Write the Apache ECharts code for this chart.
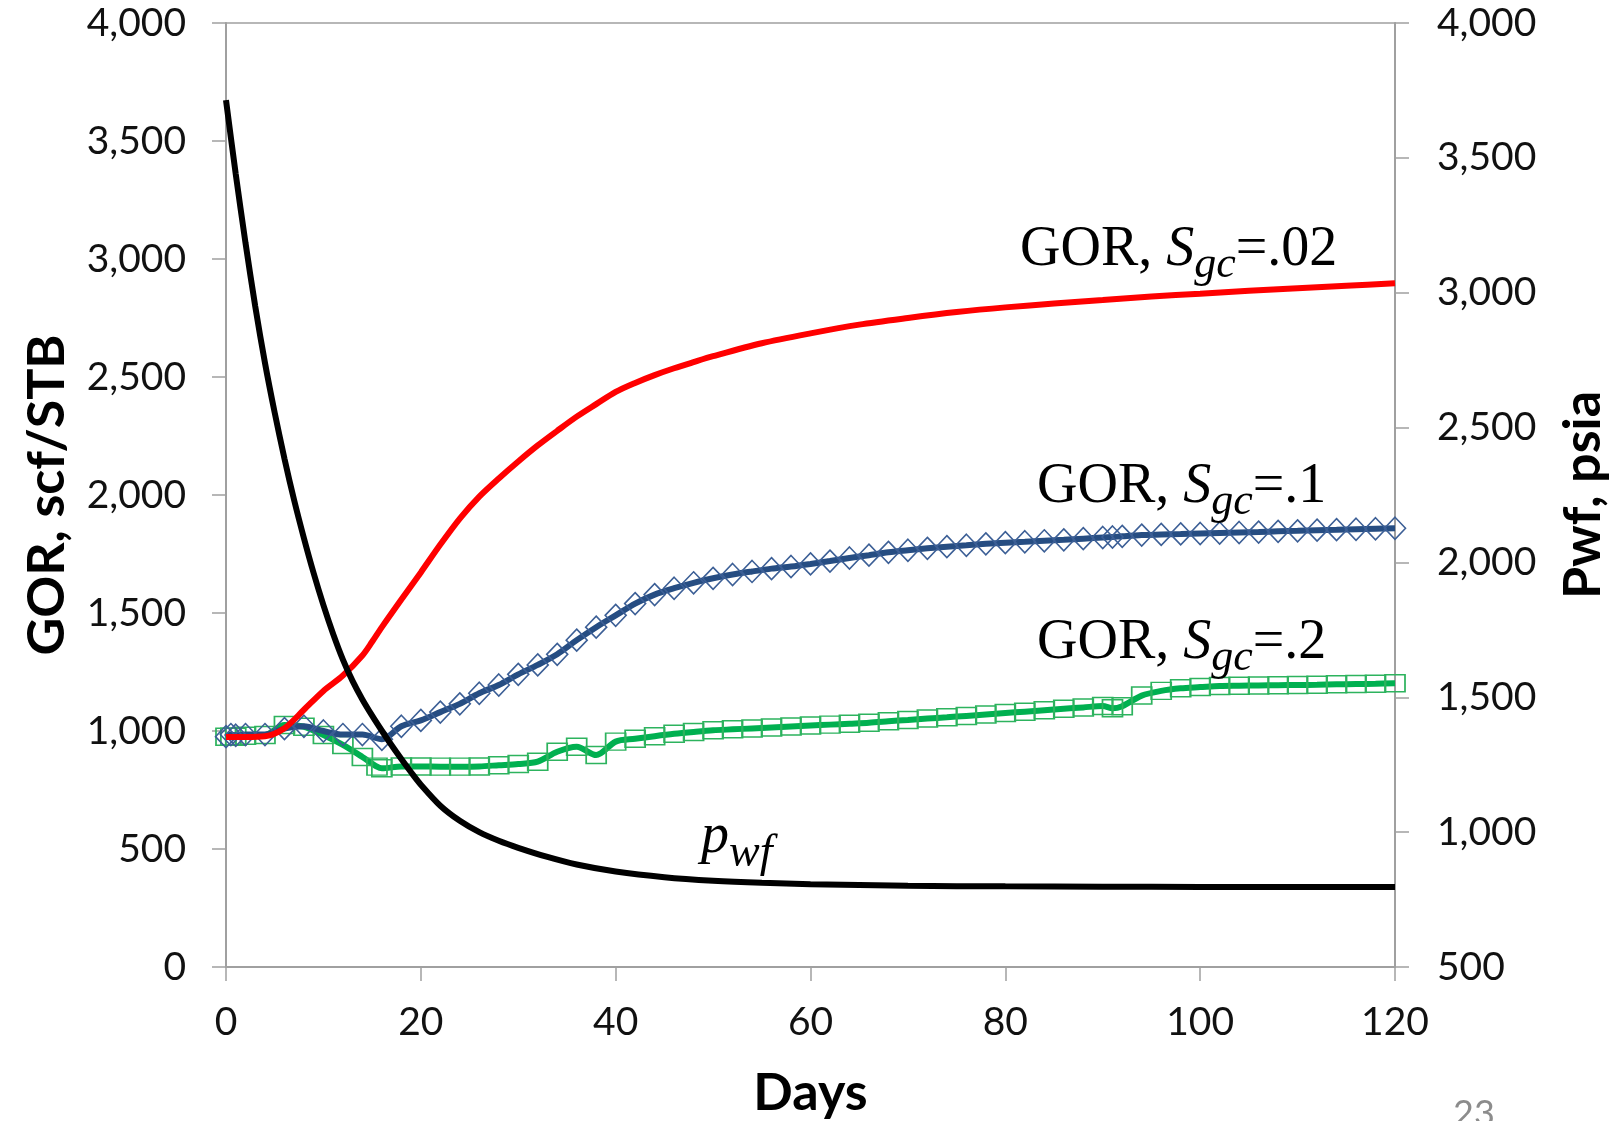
<!DOCTYPE html>
<html><head><meta charset="utf-8">
<script src="https://cdn.jsdelivr.net/npm/echarts@6/dist/echarts.min.js"></script>
<style>html,body{margin:0;padding:0;background:#fff}#c{width:1621px;height:1121px}</style>
</head><body><div id="c"></div>
<script>
// ---- data ----
const xTickValues = [0, 20, 40, 60, 80, 100, 120];
const leftTickValues = [0, 500, 1000, 1500, 2000, 2500, 3000, 3500, 4000];
const rightTickValues = [500, 1000, 1500, 2000, 2500, 3000, 3500, 4000];

// GOR, Sgc=.02 (red)
const redDays = [0, 2, 4, 6, 8, 10, 12, 14, 15, 16, 18, 20, 22, 24, 26, 28, 30, 32, 34, 36, 38, 40, 42, 44, 46, 48, 50, 55, 60, 65, 70, 75, 80, 85, 90, 95, 100, 105, 110, 115, 120];
const redGOR = [975, 975, 978, 1012, 1090, 1170, 1235, 1320, 1378, 1440, 1557, 1672, 1790, 1900, 1993, 2070, 2142, 2210, 2272, 2332, 2385, 2437, 2475, 2508, 2537, 2563, 2588, 2643, 2685, 2722, 2750, 2775, 2795, 2811, 2826, 2841, 2853, 2865, 2876, 2887, 2897];

// GOR, Sgc=.1 (blue diamonds)
const blueDays = [0, 0.5, 1, 2, 4, 6, 8, 10, 12, 14, 16, 18, 20, 22, 24, 26, 28, 30, 32, 34, 36, 38, 40, 42, 44, 46, 48, 50, 52, 54, 56, 58, 60, 62, 64, 66, 68, 70, 72, 74, 76, 78, 80, 82, 84, 86, 88, 90, 91, 92, 94, 96, 98, 100, 102, 104, 106, 108, 110, 112, 114, 116, 118, 120];
const blueGOR = [976, 985, 982, 985, 985, 1010, 1020, 1000, 985, 985, 965, 1020, 1045, 1080, 1115, 1160, 1195, 1240, 1280, 1325, 1385, 1440, 1490, 1540, 1578, 1605, 1628, 1647, 1663, 1676, 1688, 1697, 1708, 1720, 1733, 1745, 1757, 1766, 1774, 1781, 1787, 1793, 1798, 1802, 1806, 1810, 1815, 1820, 1822, 1825, 1830, 1833, 1835, 1837, 1839, 1841, 1843, 1846, 1848, 1851, 1853, 1855, 1857, 1859];

// GOR, Sgc=.2 (green squares)
const greenDays = [0, 0.5, 1, 2, 4, 6, 8, 10, 12, 14, 15.5, 16, 18, 20, 22, 24, 26, 28, 30, 32, 34, 36, 38, 40, 42, 44, 46, 48, 50, 52, 54, 56, 58, 60, 62, 64, 66, 68, 70, 72, 74, 76, 78, 80, 82, 84, 86, 88, 90, 91, 92, 94, 96, 98, 100, 102, 104, 106, 108, 110, 112, 114, 116, 118, 120];
const greenGOR = [976, 976, 976, 980, 983, 1025, 1018, 983, 941, 890, 849, 842, 850, 850, 849, 849, 850, 855, 860, 870, 912, 933, 898, 955, 967, 978, 988, 996, 1003, 1007, 1011, 1015, 1019, 1023, 1027, 1031, 1035, 1041, 1047, 1053, 1058, 1064, 1070, 1076, 1082, 1088, 1094, 1100, 1106, 1096, 1105, 1150, 1170, 1181, 1186, 1191, 1192, 1193, 1194, 1195, 1196, 1198, 1199, 1200, 1202];

// pwf (black, right axis, psia)
const pwfDays = [0, 1, 2, 3, 4, 5, 6, 7, 8, 9, 10, 11, 12, 13, 14, 15, 16, 17, 18, 19, 20, 22, 24, 26, 28, 30, 33, 36, 40, 45, 50, 55, 60, 70, 80, 90, 100, 110, 120];
const pwfPsia = [3714, 3440, 3185, 2950, 2740, 2555, 2385, 2230, 2090, 1960, 1842, 1735, 1640, 1560, 1492, 1432, 1376, 1322, 1271, 1222, 1176, 1098, 1042, 1000, 968, 942, 908, 880, 854, 833, 820, 812, 807, 801, 799, 798, 797, 797, 797];

const zip = (xs, ys) => xs.map((x, i) => [x, ys[i]]);
const fmt = v => v.toLocaleString('en-US');

const axisGray = '#a0a0a0';
const tickFont = { fontFamily: 'Lato', fontSize: 39, color: '#111' };
const nameFont = { fontFamily: 'Lato', fontWeight: 'bold', fontSize: 52, color: '#000' };

const serif = 'Liberation Serif';
const gorRich = {
  n: { fontFamily: serif, fontSize: 56, lineHeight: 74, verticalAlign: 'middle', fill: '#000' },
  i: { fontFamily: serif, fontStyle: 'italic', fontSize: 56, lineHeight: 74, verticalAlign: 'middle', fill: '#000' },
  s: { fontFamily: serif, fontStyle: 'italic', fontSize: 44, lineHeight: 44, verticalAlign: 'bottom', fill: '#000' }
};
const pRich = {
  i: { fontFamily: serif, fontStyle: 'italic', fontSize: 56, lineHeight: 80, verticalAlign: 'middle', fill: '#000' },
  s: { fontFamily: serif, fontStyle: 'italic', fontSize: 46, lineHeight: 46, verticalAlign: 'bottom', fill: '#000' }
};

const lw = 6;
const chart = echarts.init(document.getElementById('c'));
chart.setOption({
  animation: false,
  backgroundColor: '#fff',
  grid: { left: 226, right: 226, top: 23, bottom: 154, containLabel: false, outerBoundsMode: 'none', show: true, borderColor: axisGray, borderWidth: 1.5, backgroundColor: 'transparent' },
  xAxis: {
    type: 'value', min: xTickValues[0], max: xTickValues[xTickValues.length - 1], interval: xTickValues[1] - xTickValues[0],
    axisLine: { lineStyle: { color: axisGray, width: 2 } },
    axisTick: { length: 14, lineStyle: { color: axisGray, width: 1.5 } },
    axisLabel: Object.assign({ margin: 36 }, tickFont),
    splitLine: { show: false },
    name: 'Days', nameLocation: 'middle', nameGap: 100, nameTextStyle: nameFont
  },
  yAxis: [{
    type: 'value', position: 'left', min: leftTickValues[0], max: leftTickValues[leftTickValues.length - 1], interval: leftTickValues[1] - leftTickValues[0],
    axisLine: { show: true, lineStyle: { color: axisGray, width: 2 } },
    axisTick: { show: true, length: 14, lineStyle: { color: axisGray, width: 1.5 } },
    axisLabel: Object.assign({ margin: 40, formatter: fmt }, tickFont),
    splitLine: { show: false },
    name: 'GOR, scf/STB', nameLocation: 'middle', nameGap: 153, nameTextStyle: nameFont
  }, {
    type: 'value', position: 'right', min: rightTickValues[0], max: rightTickValues[rightTickValues.length - 1], interval: rightTickValues[1] - rightTickValues[0],
    axisLine: { show: true, lineStyle: { color: axisGray, width: 2 } },
    axisTick: { show: true, length: 14, lineStyle: { color: axisGray, width: 1.5 } },
    axisLabel: Object.assign({ margin: 42, formatter: fmt }, tickFont),
    splitLine: { show: false },
    name: 'Pwf, psia', nameLocation: 'middle', nameGap: 162, nameTextStyle: nameFont
  }],
  series: [{
    type: 'line', name: 'GOR, Sgc=.2', yAxisIndex: 0, z: 2,
    data: zip(greenDays, greenGOR), smooth: 0.3,
    symbol: 'rect', symbolSize: [20, 17],
    lineStyle: { color: '#00b050', width: lw },
    itemStyle: { color: 'rgba(0,0,0,0)', borderColor: '#2db35e', borderWidth: 1.6 }
  }, {
    type: 'line', name: 'GOR, Sgc=.1', yAxisIndex: 0, z: 3,
    data: zip(blueDays, blueGOR), smooth: 0.3,
    symbol: 'diamond', symbolSize: [21, 22],
    lineStyle: { color: '#264d82', width: lw },
    itemStyle: { color: 'rgba(0,0,0,0)', borderColor: '#3c5f96', borderWidth: 1.6 }
  }, {
    type: 'line', name: 'GOR, Sgc=.02', yAxisIndex: 0, z: 4,
    data: zip(redDays, redGOR), smooth: 0.3, showSymbol: false, symbol: 'none',
    lineStyle: { color: '#ff0000', width: lw }
  }, {
    type: 'line', name: 'pwf', yAxisIndex: 1, z: 5,
    data: zip(pwfDays, pwfPsia), smooth: 0.3, showSymbol: false, symbol: 'none',
    lineStyle: { color: '#000', width: lw }
  }],
  graphic: [
    { type: 'text', left: 1020, top: 222, z: 10, style: { text: '{n|GOR, }{i|S}{s|gc}{n|=.02}', rich: gorRich } },
    { type: 'text', left: 1037, top: 459, z: 10, style: { text: '{n|GOR, }{i|S}{s|gc}{n|=.1}', rich: gorRich } },
    { type: 'text', left: 1037, top: 615, z: 10, style: { text: '{n|GOR, }{i|S}{s|gc}{n|=.2}', rich: gorRich } },
    { type: 'text', left: 701, top: 809, z: 10, style: { text: '{i|p}{s|wf}', rich: pRich } },
    { type: 'text', left: 1453, top: 1096, z: 10, style: { text: '23', fontFamily: 'Lato', fontSize: 36, fill: '#8c8c8c' } }
  ]
});
</script>
</body></html>
